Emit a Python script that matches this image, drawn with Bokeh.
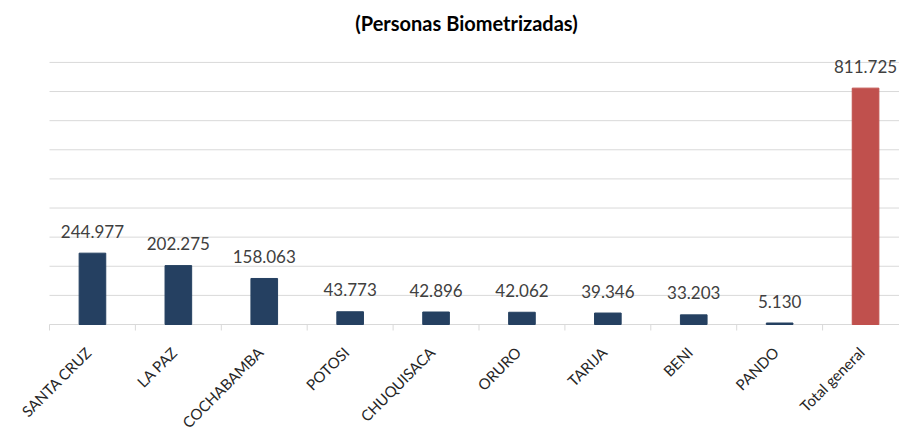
from bokeh.plotting import figure
from bokeh.models import Range1d, ColumnDataSource
from bokeh.core.properties import value
from bokeh.embed import file_html
from bokeh.resources import INLINE
import math

categories = ["SANTA CRUZ", "LA PAZ", "COCHABAMBA", "POTOSI", "CHUQUISACA",
              "ORURO", "TARIJA", "BENI", "PANDO", "Total general"]
values = [244977, 202275, 158063, 43773, 42896, 42062, 39346, 33203, 5130, 811725]
bar_colors = ["#254061"] * 9 + ["#C0504D"]
title_text = "(Personas Biometrizadas)"
grid_step = 100000
grid_max = 900000

n = len(categories)
centers = [i + 0.5 for i in range(n)]
boundaries = [float(i) for i in range(n + 1)]
labels = [f"{v:,}".replace(",", ".") for v in values]
grid_vals = list(range(0, grid_max + 1, grid_step))

W, H = 899, 430
cat_px = 85.9          # pixel width of one category
plot_left_px = 49      # pixel x of the category axis start
base_px = 324          # pixel y of the baseline
unit_px = 29.12 / grid_step
x_start = -plot_left_px / cat_px
x_end = x_start + W / cat_px
y_end = base_px / unit_px
y_start = -(H - base_px) / unit_px
px_to_data = 1 / unit_px

src = ColumnDataSource(dict(x=centers, top=values, color=bar_colors, label=labels,
                            cat=categories, zero=[0] * n))

p = figure(width=W, height=H, output_backend="svg", toolbar_location=None,
           x_range=Range1d(x_start, x_end), y_range=Range1d(y_start, y_end),
           min_border=0)
p.outline_line_color = None
p.background_fill_color = "white"
p.border_fill_color = "white"
p.xaxis.visible = False
p.yaxis.visible = False
p.grid.visible = False

# horizontal gridlines across the category area
p.segment(x0=[boundaries[0]] * len(grid_vals), y0=grid_vals,
          x1=[boundaries[-1]] * len(grid_vals), y1=grid_vals,
          line_color="#D9D9D9", line_width=1)

# category boundary ticks below the baseline (6 px)
p.segment(x0=boundaries, y0=[0] * len(boundaries), x1=boundaries,
          y1=[-6 * px_to_data] * len(boundaries), line_color="#D9D9D9", line_width=1)

p.vbar(x="x", top="top", width=0.31, color="color", source=src)

p.text(x="x", y="top", text="label", source=src, text_align="center",
       text_baseline="alphabetic", y_offset=-22,
       text_font=value("Lato"), text_font_size="17px", text_color="#404040")

p.text(x="x", y="zero", text="cat", source=src, angle=math.pi / 4,
       text_align="right", text_baseline="middle", x_offset=-4, y_offset=25,
       text_font=value("Lato"), text_font_size="15px", text_color="#262626")

# title
p.text(x=[(466 - plot_left_px) / cat_px], y=[grid_max], text=[title_text],
       text_align="center", text_baseline="alphabetic", y_offset=-39,
       text_font=value("Lato"), text_font_style="bold", text_font_size="20px",
       text_color="#000000")

open("out.html", "w").write(file_html(p, INLINE))
